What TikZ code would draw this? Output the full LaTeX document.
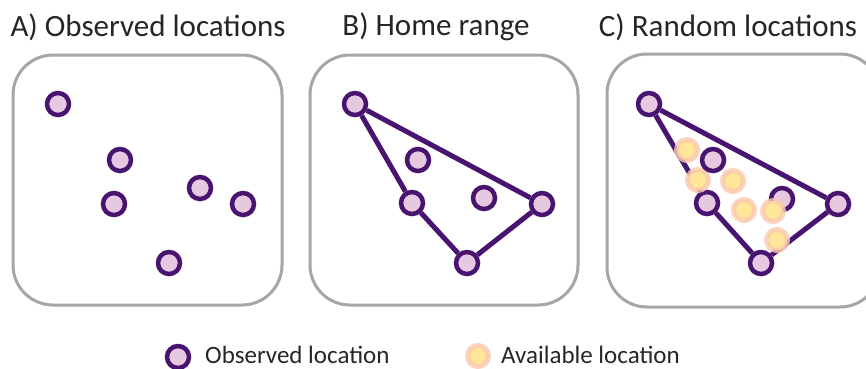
\documentclass[tikz,border=0pt]{standalone}
\usepackage{fontspec}
\setmainfont{Carlito}
\usetikzlibrary{positioning}
\definecolor{locpurple}{RGB}{72,20,112}
\definecolor{locpink}{RGB}{230,200,225}
\definecolor{locyellow}{RGB}{255,230,153}
\definecolor{locglow}{RGB}{250,200,175}
\definecolor{panelgray}{RGB}{166,166,166}
\tikzset{
    % Panel and text styles
    panel/.style={
        draw=panelgray,
        line width=3pt,
        rounded corners=40pt
    },
    title/.style={
        font=\fontsize{31}{34}\selectfont,
        text=black!85
    },
    legend text/.style={
        font=\fontsize{25}{28}\selectfont,
        text=black!85,
        inner sep=0pt,
        anchor=base west
    },
    % Location styles
    obs/.style={
        circle,
        draw=locpurple,
        fill=locpink,
        line width=4.5pt,
        inner sep=0pt,
        minimum size=22pt
    },
    avail/.style={
        circle,
        draw=locglow,
        draw opacity=0.8,
        fill=locyellow,
        line width=5pt,
        inner sep=0pt,
        minimum size=21pt
    },
    % Hull style
    hull/.style={
        draw=locpurple,
        line width=5pt,
        line join=round
    }
}

\begin{document}
\begin{tikzpicture}[x=1pt, y=-1pt]
        \useasboundingbox (0,0) rectangle (866,368);
        \fill[white] (0,0) rectangle (866,368);

        % Panels
        \draw[panel] (13,55) rectangle (282,305);
        \draw[panel] (310,55) rectangle (578,305);
        \draw[panel] (607,54) rectangle (880,307);

        \node[title] (titleA) at (148,27) {A) Observed locations};
        \node[title] (titleB) at (436,27) {B) Home range};
        \node[title] (titleC) at (728,27) {C) Random locations};

        % A) observed locations
        \foreach \i/\x/\y in {1/58/104,2/120/160,3/114/204,4/200/188,5/243/204,6/169/263} {
            \node[obs] (a\i) at (\x,\y) {};
        }

        % B) home range
        \foreach \i/\x/\y in {1/355/104,2/418/160,3/412/203,4/484/198,5/542/204,6/467/263} {
            \node[obs] (b\i) at (\x,\y) {};
        }
        \draw[hull] (b1) -- (b5);
        \draw[hull] (b5) -- (b6);
        \draw[hull] (b6) -- (b3);
        \draw[hull] (b3) -- (b1);

        % C) random locations
        \foreach \i/\x/\y in {1/649/104,3/707/203,4/782/199,5/838/204,6/761/263} {
            \node[obs] (c\i) at (\x,\y) {};
        }
        \draw[hull] (c1) -- (c5);
        \draw[hull] (c5) -- (c6);
        \draw[hull] (c6) -- (c3);
        \draw[hull] (c3) -- (c1);

        \foreach \i/\x/\y in {1/687/150,2/698/180,3/733/181,4/744/210,5/773/211,6/777/240} {
            \node[avail] (r\i) at (\x,\y) {};
        }
        \node[obs] (c2) at (713,160) {};

        % Legend
        \node[obs] (keyobs) at (178,357) {};
        \node[legend text] (keyobstext) at (205,363) {Observed location};
        \node[avail] (keyavail) at (478,356) {};
        \node[legend text] (keyavailtext) at (501,363) {Available location};
    \end{tikzpicture}
\end{document}
